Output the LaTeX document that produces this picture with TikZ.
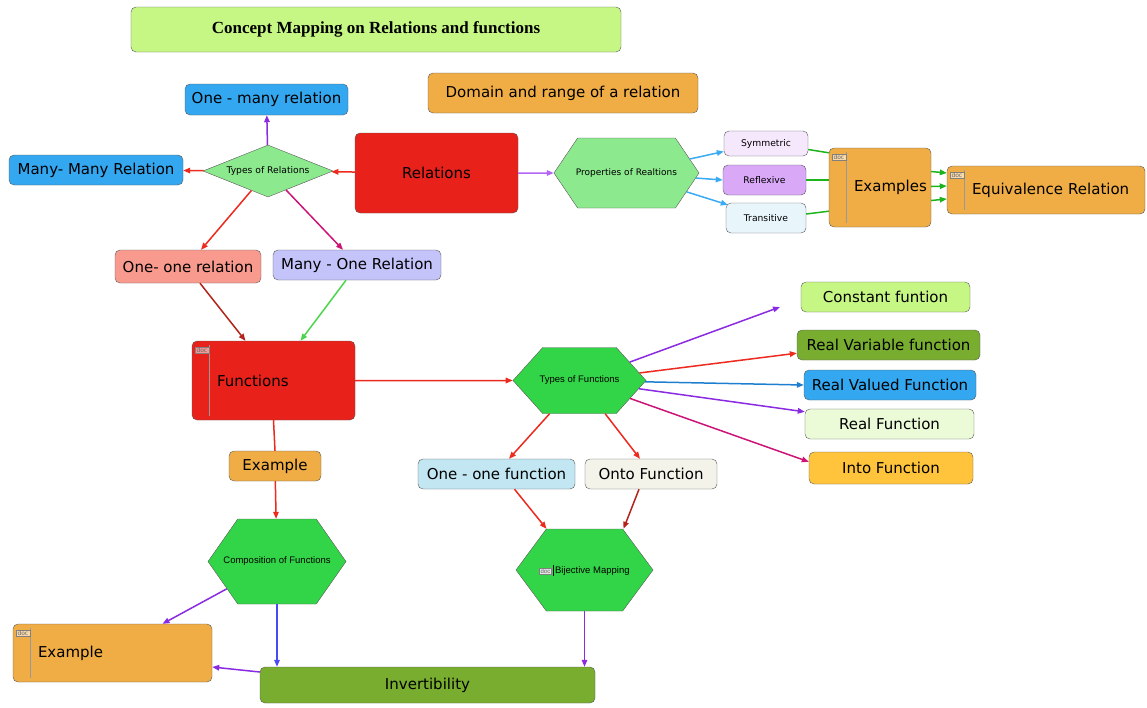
\documentclass[tikz,border=0pt]{standalone}
\usepackage{fontspec}
\setmainfont{DejaVu Sans}
\newfontfamily\arialfont{Liberation Sans}
\newfontfamily\titlefont{Liberation Serif}
\usetikzlibrary{shapes.geometric,shapes.symbols,arrows.meta}

\definecolor{titlegreen}{HTML}{C6F784}
\definecolor{boxorange}{HTML}{F0AD45}
\definecolor{boxblue}{HTML}{33A7F0}
\definecolor{relred}{HTML}{E8211A}
\definecolor{palegreen}{HTML}{8CE98E}
\definecolor{hexgreen}{HTML}{33D548}
\definecolor{olive}{HTML}{78AD30}
\definecolor{salmon}{HTML}{F99A8E}
\definecolor{periwinkle}{HTML}{C4C4FA}
\definecolor{symfill}{HTML}{F5E8FC}
\definecolor{reffill}{HTML}{D9A9F8}
\definecolor{trafill}{HTML}{E8F6FC}
\definecolor{onefill}{HTML}{C2E7F3}
\definecolor{ontofill}{HTML}{F3F3EA}
\definecolor{realfill}{HTML}{EBFBD8}
\definecolor{intofill}{HTML}{FFC43B}
% connector colours
\definecolor{arrred}{HTML}{EC2A1E}
\definecolor{arrdark}{HTML}{B3231A}
\definecolor{arrpurple}{HTML}{8A2BE2}
\definecolor{arrmag}{HTML}{CC1477}
\definecolor{arrlime}{HTML}{4CD44C}
\definecolor{arrlav}{HTML}{B565F5}
\definecolor{arrsky}{HTML}{3AABF2}
\definecolor{arrgreen}{HTML}{1DB31D}
\definecolor{arrblue}{HTML}{1E7FD0}
\definecolor{arrindigo}{HTML}{4A4AF5}

\tikzset{%
  box/.style      = {draw=black!65, rounded corners=5pt, inner sep=0pt,
    font=\fontsize{15}{17}\selectfont},
  small/.style    = {box, font=\fontsize{9.2}{11}\selectfont},
  heading/.style  = {font=\titlefont\bfseries\fontsize{17}{20}\selectfont},
  wh/.style 2 args = {minimum width=#1, minimum height=#2},
  docbox/.style   = {box, text width=#1, align=left,
    execute at begin node=\hspace*{25pt}},
  doctag/.style   = {draw=black!50, fill=white, fill opacity=0.55, text opacity=1,
    inner xsep=1.5pt, inner ysep=1pt, text=black!60, font=\fontsize{6}{6}\selectfont},
  docline/.style  = {draw=black!40, line width=0.8pt},
  hexa/.style     = {draw=black!65, signal, signal to=west and east, inner sep=0pt,
    fill=hexgreen, font=\arialfont\fontsize{9.5}{11}\selectfont}, % Hexagon
  rhomb/.style    = {draw=black!65, diamond, aspect=2.5, inner sep=0pt,
    fill=palegreen, font=\fontsize{9.2}{11}\selectfont}, % Diamond
  link/.style     = {->, line width=1.5pt},
  plain/.style    = {line width=1.5pt}
}
% hexagon text takes no width, the shape size comes from minimum width
\newcommand{\hexlabel}[1]{\makebox[0pt]{#1}}
\newcommand{\docmark}[1]{%
  \draw[docline] ([shift={(18pt,-4pt)}]#1.north west) -- ([shift={(18pt,4pt)}]#1.south west);
  \node[doctag, anchor=north west] at ([shift={(3pt,-6pt)}]#1.north west) (#1doc) {doc};}
\newcommand{\docinline}{{\setlength{\fboxsep}{0.8pt}\fcolorbox{black!50}{black!10}{\color{black!60}\fontsize{6}{6}\selectfont doc}}\,\rule[-2pt]{0.5pt}{11pt}\,}

\begin{document}
\begin{tikzpicture}[x=1pt, y=-1pt, >={Triangle[length=7pt, width=5.5pt]}]
  \useasboundingbox (0,0) rectangle (1147,707);

  % relations
  \draw node at (376,29.5) [box, heading, fill=titlegreen, wh={490}{45}] (title) {Concept Mapping on Relations and functions};
  \draw node at (563,93) [box, fill=boxorange, wh={270}{40}] (domain) {Domain and range of a relation};
  \draw node at (436.5,173) [box, fill=relred, wh={163}{80}] (rel) {Relations};
  \draw node at (268,171) [rhomb, wh={130}{52}] (tor) {Types of Relations};
  \draw node at (266.5,99.5) [box, fill=boxblue, wh={163}{31}] (onemany) {One - many relation};
  \draw node at (96,170) [box, fill=boxblue, wh={174}{30}] (manymany) {Many- Many Relation};
  \draw node at (188,266.5) [box, fill=salmon, wh={146}{33}] (oneone) {One- one relation};
  \draw node at (357,265) [box, fill=periwinkle, wh={168}{30}] (manyone) {Many - One Relation};
  \draw node at (626.5,173) [hexa, fill=palegreen, font=\fontsize{9}{11}\selectfont,
    signal pointer angle=112, wh={145}{70}] (prop) {\hexlabel{Properties of Realtions}};
  \draw node at (766,143.5) [small, fill=symfill, wh={84}{25}] (sym) {Symmetric};
  \draw node at (764.5,180) [small, fill=reffill, wh={83}{30}] (refl) {Reflexive};
  \draw node at (766,218) [small, fill=trafill, wh={80}{30}] (trans) {Transitive};
  \draw node at (880,187.5) [docbox=102, fill=boxorange, minimum height=79] (exm) {Examples};
  \docmark{exm}
  \draw node at (1046,190) [docbox=198, fill=boxorange, minimum height=48] (equiv) {Equivalence Relation};
  \docmark{equiv}

  % functions
  \draw node at (273.5,380.5) [docbox=163, fill=relred, minimum height=79] (func) {Functions};
  \docmark{func}
  \draw node at (579.5,380.5) [hexa, signal pointer angle=96, wh={133}{66}] (tof) {\hexlabel{Types of Functions}};
  \draw node at (885.5,297) [box, fill=titlegreen, wh={169}{30}] (const) {Constant funtion};
  \draw node at (888.5,345) [box, fill=olive, wh={183}{30}] (realvar) {Real Variable function};
  \draw node at (890,385) [box, fill=boxblue, wh={172}{30}] (realval) {Real Valued Function};
  \draw node at (889.5,424) [box, fill=realfill, wh={169}{30}] (realfn) {Real Function};
  \draw node at (891,468) [box, fill=intofill, wh={164}{32}] (into) {Into Function};
  \draw node at (275,466) [box, fill=boxorange, wh={92}{30}] (ex) {Example};
  \draw node at (496.5,474) [box, fill=onefill, wh={157}{30}] (onefn) {One - one function};
  \draw node at (651,474) [box, fill=ontofill, wh={132}{30}] (onto) {Onto Function};
  \draw node at (277,561.5) [hexa, signal pointer angle=110, wh={138}{85}] (comp) {\hexlabel{Composition of Functions}};
  \draw node at (584.5,570) [hexa, signal pointer angle=107, wh={137}{82}] (bij) {\hexlabel{\docinline Bijective Mapping}};
  \draw node at (112.5,653) [docbox=199, fill=boxorange, minimum height=58] (exbig) {Example};
  \docmark{exbig}
  \draw node at (427.5,685) [box, fill=olive, wh={335}{36}] (invert) {Invertibility};
  \coordinate (constend) at (780,307);

  \draw[link, arrred] (rel) -- (tor);
  \draw[link, arrpurple] (tor) -- (onemany);
  \draw[link, arrred] (tor) -- (manymany);
  \draw[link, arrred] (tor) -- ([xshift=13pt]oneone.north);
  \draw[link, arrmag] (tor) -- ([xshift=-14pt]manyone.north);
  \draw[link, arrlav] (rel) -- (prop);
  \draw[link, arrsky] (prop) -- ([yshift=-8pt]sym.west);
  \draw[link, arrsky] (prop) -- (refl.west);
  \draw[link, arrsky] (prop) -- ([shift={(2pt,-2pt)}]trans.north west);
  \draw[plain, arrgreen] ([yshift=-6pt]sym.east) -- ([yshift=-5pt]exm.north west);
  \draw[plain, arrgreen] (refl.east) -- (refl.east -| exm.west);
  \draw[plain, arrgreen] ([yshift=4pt]trans.east) -- ([yshift=16pt]exm.south west);
  \foreach \a/\b in {16/17, 1/4, -13/-9}
    \draw[link, arrgreen] ([yshift=\a pt]exm.east) -- ([yshift=\b pt]equiv.west);

  \draw[link, arrdark] ([xshift=12pt]oneone.south) -- ([xshift=-28pt]func.north);
  \draw[link, arrlime] ([xshift=-11pt]manyone.south) -- ([xshift=27pt]func.north);
  \draw[link, arrred] (func) -- (tof);
  \draw[link, arrpurple] (tof) -- (constend);
  \draw[link, arrred] (tof) -- ([yshift=7pt]realvar.south west);
  \draw[link, arrblue] (tof) -- (realval.west);
  \draw[link, arrpurple] (tof) -- ([yshift=-3pt]realfn.north west);
  \draw[link, arrmag] (tof) -- ([yshift=-10pt]into.north west);
  \draw[link, arrred] (tof) -- ([xshift=12.5pt]onefn.north);
  \draw[link, arrred] (tof) -- ([xshift=-11pt]onto.north);
  \draw[link, arrred] ([xshift=18pt]onefn.south) -- ([xshift=-38pt]bij.north);
  \draw[link, arrdark] ([xshift=-12pt]onto.south) -- ([xshift=39pt]bij.north);

  \draw[plain, arrred] (func.south) -- (ex.north);
  \draw[link, arrred] (ex) -- (comp);
  \draw[link, arrpurple] (comp) -- ([xshift=50pt]exbig.north);
  \draw[link, arrindigo] (comp.south) -- (comp.south |- invert.north);
  \draw[link, arrpurple] (bij.south) -- (bij.south |- invert.north);
  \draw[link, arrpurple] ([yshift=13pt]invert.west) -- ([yshift=-14pt]exbig.east);
\end{tikzpicture}
\end{document}
